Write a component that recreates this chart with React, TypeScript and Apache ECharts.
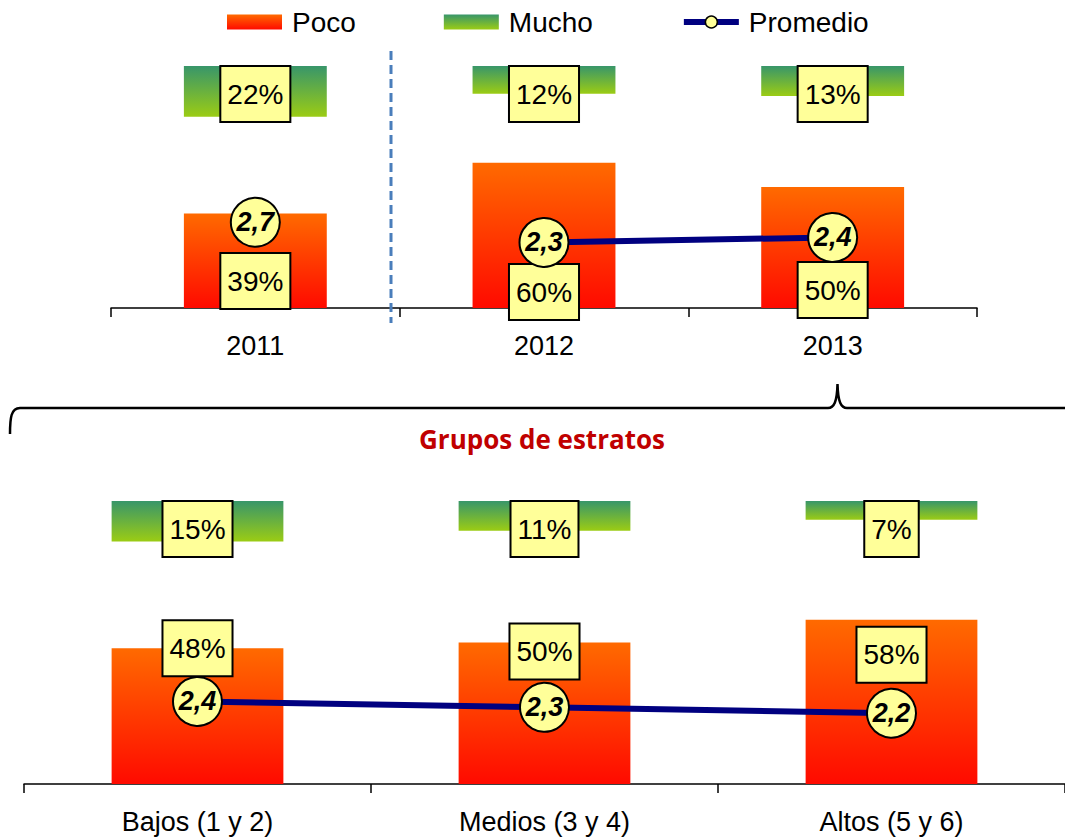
import React, { useEffect, useRef } from "react";
import * as echarts from "echarts";

const legendNames = ["Poco", "Mucho", "Promedio"];
const yearCats = ["2011", "2012", "2013"];
const pocoYears = [39, 60, 50];
const muchoYears = [22, 12, 13];
const promYears2011 = [2.7, "-", "-"];
const promYearsLater = ["-", 2.3, 2.4];

const groupCats = ["Bajos (1 y 2)", "Medios (3 y 4)", "Altos (5 y 6)"];
const pocoGroups = [48, 50, 58];
const muchoGroups = [15, 11, 7];
const promGroups = [2.4, 2.3, 2.2];

const groupTitle = "Grupos de estratos";

// label layout tweaks (not data)
const pocoTopOffsets = [0, 11, 9];
const pocoBottomOffsets = [-27, -18, 8];

const FONT = '"Liberation Sans", Arial, sans-serif';

const pocoGrad = () =>
  new echarts.graphic.LinearGradient(0, 0, 0, 1, [
    { offset: 0, color: "#FF6A00" },
    { offset: 1, color: "#FF0A00" },
  ]);
const muchoGrad = () =>
  new echarts.graphic.LinearGradient(0, 0, 0, 1, [
    { offset: 0, color: "#38966A" },
    { offset: 1, color: "#9BCC14" },
  ]);

const boxLabel = {
  show: true,
  formatter: "{c}%",
  fontFamily: FONT,
  fontSize: 28,
  lineHeight: 30,
  color: "#000",
  backgroundColor: "#FFFF99",
  borderColor: "#000",
  borderWidth: 2,
  padding: [12, 6, 12, 6],
};

const circleLabel = {
  show: true,
  position: "inside",
  fontFamily: FONT,
  fontSize: 27,
  fontWeight: "bold",
  fontStyle: "italic",
  color: "#000",
  formatter: (p: any) => String(p.value).replace(".", ","),
};

const braceD =
  "M10,434 C10,418 11,408 20,408 L828,408 C834,408 837,402 837.5,384 C838,402 841,408 847,408 L1070,408";

export default function App() {
  const ref = useRef<HTMLDivElement>(null);
  useEffect(() => {
    document.body.style.margin = "0";
    if (!ref.current) return;
    try {
      echarts.graphic.registerShape("brace", echarts.graphic.extendPath(braceD, {}) as any);
    } catch (e) {}
    const chart = echarts.init(ref.current, null, { renderer: "svg" });

    const catAxis = (gridIndex: number, data: string[]) => ({
      type: "category",
      gridIndex,
      data,
      boundaryGap: true,
      axisLine: { lineStyle: { color: "#000", width: 1.5 } },
      axisTick: { show: true, length: 9, lineStyle: { color: "#000", width: 1.5 } },
      axisLabel: { fontFamily: FONT, fontSize: 27, color: "#000", margin: 22, lineHeight: 32 },
      splitLine: { show: false },
    });
    const hiddenVal = (gridIndex: number, min: number, max: number, inverse = false) => ({
      type: "value",
      gridIndex,
      min,
      max,
      inverse,
      show: false,
      splitLine: { show: false },
    });

    const lineStyleSeries = (name: string, xi: number, yi: number, data: any[]) => ({
      name,
      type: "line",
      xAxisIndex: xi,
      yAxisIndex: yi,
      data,
      symbol: "circle",
      symbolSize: 49,
      showSymbol: true,
      lineStyle: { color: "#000080", width: 6 },
      itemStyle: { color: "#FFFF99", borderColor: "#000", borderWidth: 2 },
      label: circleLabel,
      z: 5,
    });

    const option: any = {
      animation: false,
      backgroundColor: "#fff",
      legend: {
        data: [
          { name: legendNames[0], icon: "rect" },
          { name: legendNames[1], icon: "rect" },
          {
            name: legendNames[2],
            itemStyle: { color: "#FFFF99", borderColor: "#000", borderWidth: 1.5 },
            lineStyle: { color: "#000080", width: 6 },
          },
        ],
        left: 222,
        top: 3,
        itemWidth: 55,
        itemHeight: 15,
        itemGap: 88,
        textStyle: { fontFamily: FONT, fontSize: 28, color: "#000", padding: [0, 0, 0, 5] },
      },
      grid: [
        { left: 111, right: 88, top: 66, height: 242, containLabel: false },
        { left: 24, right: -2, top: 501, height: 283, containLabel: false },
      ],
      xAxis: [catAxis(0, yearCats), catAxis(1, groupCats)],
      yAxis: [
        hiddenVal(0, 0, 100),
        hiddenVal(0, 0, 105, true),
        hiddenVal(0, 1, 5.8),
        hiddenVal(1, 0, 100),
        hiddenVal(1, 0, 105, true),
        hiddenVal(1, 1, 5.8),
      ],
      series: [
        {
          name: "Poco",
          type: "bar",
          xAxisIndex: 0,
          yAxisIndex: 0,
          barWidth: "49.5%",
          barGap: "-100%",
          itemStyle: { color: pocoGrad() },
          data: pocoYears.map((v, i) => ({
            value: v,
            label: { offset: [0, pocoTopOffsets[i]] },
          })),
          label: { ...boxLabel, position: "insideBottom", distance: 0 },
          z: 2,
        },
        {
          name: "Mucho",
          type: "bar",
          xAxisIndex: 0,
          yAxisIndex: 1,
          barWidth: "49.5%",
          barGap: "-100%",
          itemStyle: { color: muchoGrad() },
          data: muchoYears,
          label: { ...boxLabel, position: "insideTop", distance: 1 },
          z: 2,
        },
        lineStyleSeries("Promedio", 0, 2, promYears2011),
        lineStyleSeries("Promedio", 0, 2, promYearsLater),
        {
          name: "Poco",
          type: "bar",
          xAxisIndex: 1,
          yAxisIndex: 3,
          barWidth: "49.5%",
          barGap: "-100%",
          itemStyle: { color: pocoGrad() },
          data: pocoGroups.map((v, i) => ({
            value: v,
            label: { offset: [0, pocoBottomOffsets[i]] },
          })),
          label: { ...boxLabel, position: "insideTop", distance: 0 },
          z: 2,
        },
        {
          name: "Mucho",
          type: "bar",
          xAxisIndex: 1,
          yAxisIndex: 4,
          barWidth: "49.5%",
          barGap: "-100%",
          itemStyle: { color: muchoGrad() },
          data: muchoGroups,
          label: { ...boxLabel, position: "insideTop", distance: 1 },
          z: 2,
        },
        lineStyleSeries("Promedio", 1, 5, promGroups),
      ],
      graphic: [
        {
          type: "line",
          shape: { x1: 391, y1: 51, x2: 391, y2: 323 },
          style: { stroke: "#4A7EBB", lineWidth: 3, lineDash: [9, 5] },
          z: 10,
        },
        {
          type: "brace",
          x: 0,
          y: 0,
          style: { stroke: "#000", fill: null, lineWidth: 2.5 },
          z: 10,
        },
        {
          type: "text",
          x: 542,
          y: 439,
          style: {
            text: groupTitle,
            fill: "#C00000",
            font: 'bold 26px "Open Sans", sans-serif',
            align: "center",
            verticalAlign: "middle",
          },
          z: 10,
        },
      ],
    };
    chart.setOption(option);
    return () => chart.dispose();
  }, []);
  return <div ref={ref} style={{ width: 1065, height: 840 }} />;
}
